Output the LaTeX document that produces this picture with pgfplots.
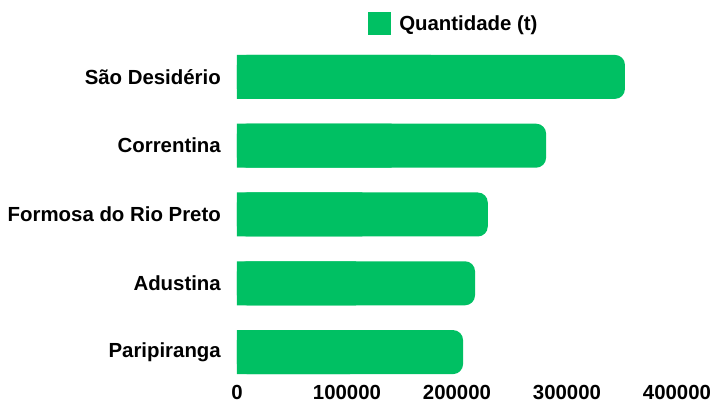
\documentclass[border=0pt]{standalone}
\usepackage{fontspec}
\setmainfont{Liberation Sans}
\usepackage{pgfplots}
\pgfplotsset{compat=1.18}
\definecolor{bargreen}{RGB}{0,192,99}
\begin{document}
\begin{tikzpicture}
\useasboundingbox (0,0) rectangle (713pt,403pt);
\begin{axis}[
  at={(237pt,16.5pt)}, anchor=south west,
  scale only axis, width=440pt, height=344pt,
  xbar, bar width=44pt, bar shift=0pt,
  xmin=0, xmax=400000, ymin=-0.5, ymax=4.5,
  xtick={0,100000,200000,300000,400000},
  xticklabels={0,100000,200000,300000,400000},
  ytick={0,1,2,3,4},
  yticklabels={Paripiranga,Adustina,Formosa do Rio Preto,Correntina,São Desidério},
  scaled x ticks=false,
  axis line style={draw=none},
  major tick length=0pt,
  tick style={draw=none},
  every tick label/.append style={font=\fontsize{20.4}{24}\selectfont\bfseries},
  xticklabel style={inner sep=0pt, anchor=north, yshift=1pt},
  yticklabel style={inner sep=0pt, anchor=east, xshift=-16pt},
  legend style={draw=none, fill=none, at={(0.493,1.054)}, anchor=center,
    font=\fontsize{20.4}{24}\selectfont\bfseries, inner sep=0pt},
  legend cell align=left,
  legend image code/.code={\fill[bargreen, sharp corners] (0pt,-11.5pt) rectangle (23pt,11.5pt);},
]
\addplot[fill=bargreen, draw=none, rounded corners=10pt, bar shift=0pt] coordinates {
  (205500,0) (216400,1) (228000,2) (281000,3) (352700,4)
};
\addlegendentry{\hspace{6pt}Quantidade (t)}
\addplot[fill=bargreen, draw=none, forget plot, bar shift=0pt, x filter/.expression={x/2}] coordinates {
  (205500,0) (216400,1) (228000,2) (281000,3) (352700,4)
};
\end{axis}
\end{tikzpicture}
\end{document}
